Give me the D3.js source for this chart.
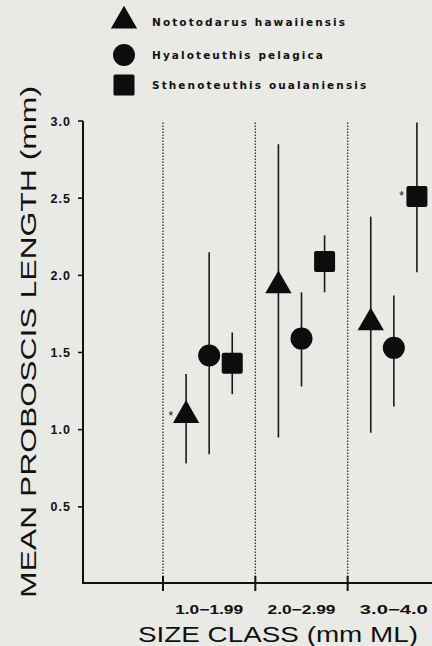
<!DOCTYPE html>
<html>
<head>
<meta charset="utf-8">
<script src="https://cdn.jsdelivr.net/npm/d3@7"></script>
<style>
  body { margin: 0; background: #e9e9e5; }
  svg { display: block; }
  text { font-family: "Liberation Sans", Arial, sans-serif; fill: #111; }
  .legend text { font-family: "DejaVu Sans", sans-serif; }
</style>
</head>
<body>
<div id="vis"></div>
<script>
var sizeClasses = ["1.0-1.99", "2.0-2.99", "3.0-4.0"];
var species = ["Nototodarus hawaiiensis", "Hyaloteuthis pelagica", "Sthenoteuthis oualaniensis"];
var shapes = ["triangle", "circle", "square"];

// mean, low, high per size class
var nototodarusMean = [1.08, 1.92, 1.68];
var nototodarusLow = [0.78, 0.95, 0.98];
var nototodarusHigh = [1.36, 2.85, 2.38];

var hyaloteuthisMean = [1.48, 1.59, 1.53];
var hyaloteuthisLow = [0.84, 1.28, 1.15];
var hyaloteuthisHigh = [2.15, 1.89, 1.87];

var sthenoteuthisMean = [1.43, 2.09, 2.51];
var sthenoteuthisLow = [1.23, 1.89, 2.02];
var sthenoteuthisHigh = [1.63, 2.26, 2.99];

// significance asterisks: [species index, class index]
var starred = [[0, 0], [2, 2]];

var yTicks = [0.5, 1.0, 1.5, 2.0, 2.5, 3.0];

var means = [nototodarusMean, hyaloteuthisMean, sthenoteuthisMean];
var lows = [nototodarusLow, hyaloteuthisLow, sthenoteuthisLow];
var highs = [nototodarusHigh, hyaloteuthisHigh, sthenoteuthisHigh];

var points = [];
species.forEach(function(s, si) {
  sizeClasses.forEach(function(c, ci) {
    points.push({
      species: s, si: si, cls: c, ci: ci,
      mean: means[si][ci], low: lows[si][ci], high: highs[si][ci],
      star: starred.some(function(p) { return p[0] === si && p[1] === ci; })
    });
  });
});

var elem_width = 432;
var elem_height = 646;
var elem = d3.select("#vis")
  .append("svg")
  .attr("width", elem_width)
  .attr("height", elem_height);

elem.append("rect")
  .attr("fill", "#e9e9e5")
  .attr("width", elem_width)
  .attr("height", elem_height);

var axisLeft = 83;
var axisBottom = 583;

var scales = {
  x: d3.scaleBand().domain(sizeClasses).range([163, 440]),
  // centres at 1/4, 2/4, 3/4 of each class
  inner: d3.scalePoint().domain(species).range([0.25, 0.75]),
  y: d3.scaleLinear().domain([0, 3]).range([584, 121])
};

function cx(d) {
  return scales.x(d.cls) + scales.inner(d.species) * scales.x.bandwidth();
}

// dotted class dividers
elem.selectAll(".divider")
  .data(sizeClasses).enter()
  .append("line")
  .attr("class", "divider")
  .attr("x1", function(d) { return scales.x(d); })
  .attr("x2", function(d) { return scales.x(d); })
  .attr("y1", scales.y(2.99))
  .attr("y2", axisBottom)
  .attr("stroke", "#333")
  .attr("stroke-width", 1.3)
  .attr("stroke-dasharray", "1.5,1.5");

// axes
elem.append("line")
  .attr("x1", axisLeft).attr("x2", axisLeft)
  .attr("y1", scales.y(3)).attr("y2", axisBottom + 1)
  .attr("stroke", "#111").attr("stroke-width", 2);
elem.append("line")
  .attr("x1", axisLeft - 1).attr("x2", elem_width)
  .attr("y1", axisBottom).attr("y2", axisBottom)
  .attr("stroke", "#111").attr("stroke-width", 2);

// y ticks
var yt = elem.selectAll(".ytick").data(yTicks).enter().append("g").attr("class", "ytick");
yt.append("line")
  .attr("x1", axisLeft - 5).attr("x2", axisLeft)
  .attr("y1", function(d) { return scales.y(d); })
  .attr("y2", function(d) { return scales.y(d); })
  .attr("stroke", "#111").attr("stroke-width", 1.6);
yt.append("text")
  .attr("x", axisLeft - 12)
  .attr("y", function(d) { return scales.y(d) + 4.5; })
  .attr("text-anchor", "end")
  .attr("font-size", 12.5)
  .attr("font-weight", "bold")
  .attr("letter-spacing", 1)
  .text(function(d) { return d3.format(".1f")(d); });

// x ticks
elem.selectAll(".xtick").data(sizeClasses).enter().append("line")
  .attr("class", "xtick")
  .attr("x1", function(d) { return scales.x(d); })
  .attr("x2", function(d) { return scales.x(d); })
  .attr("y1", axisBottom - 7).attr("y2", axisBottom + 8)
  .attr("stroke", "#111").attr("stroke-width", 2);

elem.selectAll(".xlabel").data(sizeClasses).enter().append("text")
  .attr("class", "xlabel")
  .attr("x", function(d) { return scales.x(d) + scales.x.bandwidth() / 2; })
  .attr("y", 614)
  .attr("text-anchor", "middle")
  .attr("font-size", 12.5)
  .attr("font-weight", "bold")
  .attr("textLength", 68)
  .attr("lengthAdjust", "spacingAndGlyphs")
  .text(function(d) { return d.replace("-", "\u2212"); });

// axis titles
elem.append("text")
  .attr("x", 278).attr("y", 642)
  .attr("text-anchor", "middle")
  .attr("font-size", 22)
  .attr("textLength", 280)
  .attr("lengthAdjust", "spacingAndGlyphs")
  .text("SIZE CLASS (mm ML)");

elem.append("text")
  .attr("transform", "translate(36,342) rotate(-90)")
  .attr("text-anchor", "middle")
  .attr("font-size", 22)
  .attr("textLength", 512)
  .attr("lengthAdjust", "spacingAndGlyphs")
  .text("MEAN PROBOSCIS LENGTH (mm)");

// error bars
elem.selectAll(".err").data(points).enter().append("line")
  .attr("class", "err")
  .attr("x1", cx).attr("x2", cx)
  .attr("y1", function(d) { return scales.y(d.low); })
  .attr("y2", function(d) { return scales.y(d.high); })
  .attr("stroke", "#1a1a1a").attr("stroke-width", 1.6);

function symbolPath(shape) {
  if (shape === "triangle") return d3.symbol().type(d3.symbolTriangle).size(300)();
  if (shape === "circle") return d3.symbol().type(d3.symbolCircle).size(380)();
  return null;
}

var marks = elem.selectAll(".mark").data(points).enter().append("g")
  .attr("class", "mark")
  .attr("transform", function(d) { return "translate(" + cx(d) + "," + scales.y(d.mean) + ")"; });

marks.each(function(d) {
  var g = d3.select(this);
  var shape = shapes[d.si];
  if (shape === "square") {
    g.append("rect").attr("x", -10.5).attr("y", -10.5).attr("width", 21).attr("height", 21)
      .attr("rx", 2).attr("fill", "#0d0d0d");
  } else {
    g.append("path").attr("d", symbolPath(shape)).attr("fill", "#0d0d0d")
      .attr("transform", shape === "triangle" ? "translate(0,-2)" : null);
  }
});

// asterisks
elem.selectAll(".star").data(points.filter(function(d) { return d.star; })).enter()
  .append("text")
  .attr("class", "star")
  .attr("x", function(d) { return cx(d) - 13; })
  .attr("y", function(d) { return scales.y(d.mean) + 3; })
  .attr("text-anchor", "end")
  .attr("font-size", 12)
  .text("*");

// legend
var legend = elem.selectAll(".legend").data(species).enter().append("g")
  .attr("class", "legend")
  .attr("transform", function(d, i) { return "translate(124," + [22, 55, 85][i] + ")"; });

legend.each(function(d, i) {
  var g = d3.select(this);
  if (shapes[i] === "square") {
    g.append("rect").attr("x", -10.5).attr("y", -10.5).attr("width", 21).attr("height", 21)
      .attr("rx", 1.5).attr("fill", "#0d0d0d");
  } else {
    g.append("path").attr("d", symbolPath(shapes[i])).attr("fill", "#0d0d0d")
      .attr("transform", shapes[i] === "triangle" ? "translate(0,-1)" : null);
  }
});

legend.append("text")
  .attr("x", 28)
  .attr("y", 4)
  .attr("font-size", 10.5)
  .attr("font-weight", "bold")
  .attr("letter-spacing", 2.1)
  .text(function(d) { return d; });
</script>
</body>
</html>
